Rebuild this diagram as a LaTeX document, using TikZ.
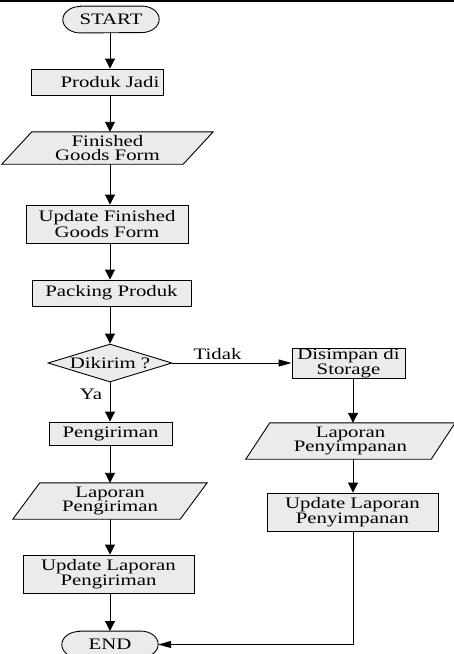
\documentclass[tikz,border=0pt]{standalone}
\usepackage{fontspec}
\setmainfont{Liberation Serif}[FakeStretch=1.3]
\usetikzlibrary{arrows.meta,shapes.geometric,backgrounds}
\definecolor{boxfill}{RGB}{235,235,235}
\tikzset{
  every node/.style={inner sep=0pt, font=\fontsize{16}{14.5}\selectfont, align=center},
  procbox/.style={draw, fill=boxfill, line width=0.9pt, rectangle},
  databox/.style={rectangle},
  termbox/.style={rectangle},
  decbox/.style={draw, fill=boxfill, line width=0.9pt, diamond, aspect=3.3},
  conn/.style={line width=0.9pt},
  varr/.style={conn, -{Triangle[length=10pt,width=10pt]}},
  harr/.style={conn, -{Triangle[length=13pt,width=7pt]}},
  shapeline/.style={draw, fill=boxfill, line width=0.9pt},
}
\newcommand{\para}[2]{% node, slant
  \path[shapeline] ([xshift=#2]#1.north west) -- (#1.north east) -- ([xshift=-#2]#1.south east) -- (#1.south west) -- cycle;}
\newcommand{\capsule}[1]{%
  \path[shapeline] ([xshift=17.5pt]#1.north west) -- ([xshift=-17.5pt]#1.north east)
    arc[start angle=90, end angle=-90, x radius=17.5pt, y radius=13.25pt]
    -- ([xshift=17.5pt]#1.south west)
    arc[start angle=270, end angle=90, x radius=17.5pt, y radius=13.25pt] -- cycle;}
\begin{document}
\begin{tikzpicture}[x=1pt, y=-1pt]
\useasboundingbox (0,0) rectangle (454,654);
\draw[line width=1.5pt] (0,0.75) -- (454,0.75);
\coordinate (colL) at (110,0);
\coordinate (colR) at (353,0);
% left column
\node[termbox, minimum width=96pt, minimum height=26.5pt] (start) at (111,19.5) {START};
\node[procbox, minimum width=132pt, minimum height=26pt] (pj) at (97,82) {\hspace*{26pt}Produk Jadi};
\node[databox, minimum width=211pt, minimum height=32pt] (fgf) at (107.5,148) {Finished\\Goods Form};
\node[procbox, minimum width=162pt, minimum height=38pt] (ufgf) at (107,224) {Update Finished\\Goods Form};
\node[procbox, minimum width=159pt, minimum height=26pt] (pp) at (111.5,293) {Packing Produk};
\node[decbox, minimum width=124pt, minimum height=38pt] (dk) at (110,363) {Dikirim ?};
\node[procbox, minimum width=123pt, minimum height=23pt] (pg) at (110.5,433.5) {Pengiriman};
\node[databox, minimum width=194pt, minimum height=36pt] (lpg) at (110,501) {Laporan\\Pengiriman};
\node[procbox, minimum width=171pt, minimum height=38pt] (ulpg) at (108.5,574) {Update Laporan\\Pengiriman};
\node[termbox, minimum width=96pt, minimum height=26.5pt] (end) at (110,644.5) {END};
% right column
\node[procbox, minimum width=113pt, minimum height=30pt] (ds) at (348.5,363) {Disimpan di\\Storage};
\node[databox, minimum width=209pt, minimum height=36pt] (lps) at (350.5,441) {Laporan\\Penyimpanan};
\node[procbox, minimum width=171pt, minimum height=38pt] (ulps) at (352.5,512) {Update Laporan\\Penyimpanan};
% shapes behind text
\begin{scope}[on background layer]
  \capsule{start}
  \capsule{end}
  \para{fgf}{30pt}
  \para{lpg}{27pt}
  \para{lps}{24pt}
\end{scope}
% connectors
\draw[varr] (start.south -| colL) -- (pj.north -| colL);
\draw[varr] (pj.south -| colL) -- (fgf.north -| colL);
\draw[varr] (fgf.south -| colL) -- (ufgf.north -| colL);
\draw[varr] (ufgf.south -| colL) -- (pp.north -| colL);
\draw[varr] (pp.south -| colL) -- (dk.north);
\draw[varr] (dk.south) -- (pg.north -| colL);
\draw[varr] (pg.south -| colL) -- (lpg.north -| colL);
\draw[varr] (lpg.south -| colL) -- (ulpg.north -| colL);
\draw[varr] (ulpg.south -| colL) -- (end.north -| colL);
\draw[harr] (dk.east) -- (ds.west);
\draw[varr] (ds.south -| colR) -- (lps.north -| colR);
\draw[varr] (lps.south -| colR) -- (ulps.north -| colR);
\coordinate (corner) at (colR |- end.east);
\draw[harr] (ulps.south -| colR) -- (corner) -- (end.east);
% labels
\node (tidak) at (217.5,354) {Tidak};
\node (ya) at (91,394) {Ya};
\end{tikzpicture}
\end{document}
